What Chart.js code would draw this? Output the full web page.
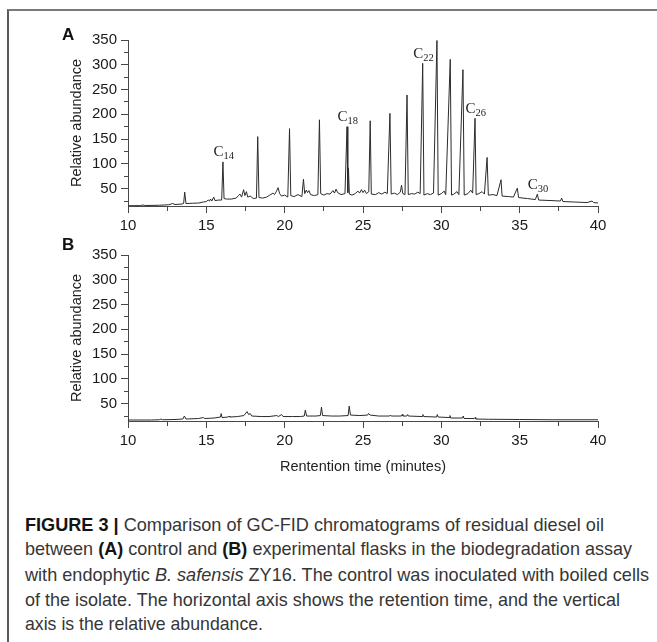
<!DOCTYPE html>
<html>
<head>
<meta charset="utf-8">
<script src="https://cdn.jsdelivr.net/npm/chart.js@4.4.1/dist/chart.umd.min.js"></script>
<style>
  html, body { margin: 0; padding: 0; background: #fff; }
  body { width: 657px; height: 642px; position: relative; overflow: hidden;
         font-family: "Liberation Sans", Arial, sans-serif; }
  #frame { position: absolute; left: 7px; top: 9px; width: 700px; height: 700px;
           border-left: 2px solid #5a5a5a; border-top: 2px solid #7a7a7a; }
  canvas { position: absolute; left: 0; }
  #chartA { top: 0; }
  #chartB { top: 240px; }
  .panel { position: absolute; left: 62px; font-size: 17px; line-height: 17px;
           font-weight: bold; color: #111; }
  .cap { position: absolute; left: 25px; font-size: 19px; line-height: 24.8px; white-space: nowrap;
         color: #363636; transform-origin: 0 50%;
         font-family: "Liberation Sans Narrow", "Liberation Sans", Arial, sans-serif; }
  .cap b { color: #141414; }
</style>
</head>
<body>
<div id="frame"></div>
<canvas id="chartA" width="657" height="240"></canvas>
<canvas id="chartB" width="657" height="250"></canvas>
<div class="panel" style="top:26px">A</div>
<div class="panel" style="top:236px">B</div>

<div class="cap" style="top:512.6px"><b>FIGURE 3 |</b> Comparison of GC-FID chromatograms of residual diesel oil</div>
<div class="cap" style="top:537px">between <b>(A)</b> control and <b>(B)</b> experimental flasks in the biodegradation assay</div>
<div class="cap" style="top:562.6px">with endophytic <i>B. safensis</i> ZY16. The control was inoculated with boiled cells</div>
<div class="cap" style="top:587.6px">of the isolate. The horizontal axis shows the retention time, and the vertical</div>
<div class="cap" style="top:612px">axis is the relative abundance.</div>

<script>
/** Data */
// (A) control: [retention time (min), relative abundance]
const controlTrace = [
    [10.0, 15.5], [10.8, 15.8], [10.95, 17], [11.1, 16], [12.0, 16.5], [12.6, 17.5], [12.85, 20], [13.0, 18],
    [13.45, 19], [13.55, 20], [13.62, 43], [13.7, 20], [14.1, 20.5], [14.5, 21], [14.8, 23], [15.0, 24],
    [15.12, 27], [15.2, 25], [15.27, 29], [15.35, 25], [15.47, 33], [15.55, 26], [15.8, 27], [15.98, 27],
    [16.06, 104], [16.13, 30], [16.3, 29], [16.6, 29], [16.9, 31], [17.05, 36], [17.15, 39], [17.25, 33],
    [17.38, 48], [17.46, 36], [17.56, 44], [17.64, 33], [17.8, 35], [18.0, 30], [18.2, 31], [18.28, 155],
    [18.36, 32], [18.6, 31], [18.85, 33], [19.05, 37], [19.25, 41], [19.35, 38], [19.48, 45], [19.58, 52],
    [19.68, 40], [19.8, 35], [20.0, 37], [20.2, 33], [20.31, 171], [20.39, 36], [20.6, 34], [20.85, 38],
    [21.1, 34], [21.2, 69], [21.28, 40], [21.38, 47], [21.46, 42], [21.55, 46], [21.65, 38], [21.9, 36],
    [22.12, 38], [22.22, 189], [22.3, 40], [22.5, 37], [22.7, 40], [22.9, 39], [23.08, 46], [23.18, 41],
    [23.28, 49], [23.38, 42], [23.6, 38], [23.85, 40], [23.98, 175], [24.03, 42], [24.07, 92], [24.13, 39],
    [24.3, 37], [24.5, 40], [24.68, 45], [24.78, 41], [24.9, 48], [25.0, 42], [25.1, 47], [25.22, 40],
    [25.37, 44], [25.46, 187], [25.53, 39], [25.8, 38], [26.0, 42], [26.2, 39], [26.4, 43], [26.55, 40],
    [26.72, 202], [26.8, 39], [27.0, 41], [27.2, 38], [27.38, 43], [27.46, 57], [27.54, 40], [27.68, 38],
    [27.81, 239], [27.89, 38], [28.1, 40], [28.3, 39], [28.5, 43], [28.65, 40], [28.81, 303], [28.89, 37],
    [29.1, 40], [29.3, 38], [29.5, 41], [29.72, 349], [29.8, 37], [30.0, 40], [30.18, 45], [30.28, 38],
    [30.57, 311], [30.65, 37], [30.8, 39], [31.0, 44], [31.12, 38], [31.38, 290], [31.46, 37], [31.7, 40],
    [31.88, 47], [32.0, 41], [32.15, 192], [32.22, 38], [32.4, 40], [32.6, 44], [32.75, 39], [32.92, 113],
    [33.0, 37], [33.3, 38], [33.55, 36], [33.81, 68], [33.88, 35], [34.3, 34], [34.6, 33], [34.85, 51],
    [34.93, 32], [35.5, 30], [36.0, 28], [36.13, 39], [36.21, 27], [37.0, 26], [37.6, 25], [37.68, 31],
    [37.76, 24], [38.5, 23], [39.3, 22], [39.62, 25], [39.72, 22], [40.0, 21]
];

// (B) experimental: [retention time (min), relative abundance]
const experimentTrace = [
    [10.0, 17], [11.5, 17], [12.0, 17.5], [12.1, 19], [12.2, 17.5], [13.0, 18], [13.5, 19], [13.6, 25],
    [13.7, 19], [14.5, 20], [14.8, 22], [14.9, 20], [15.5, 21], [15.9, 23], [15.95, 30], [16.0, 22],
    [16.4, 23], [16.45, 25], [16.5, 23], [17.0, 24], [17.4, 26], [17.6, 34], [17.7, 28], [17.8, 30],
    [17.9, 25], [18.5, 24], [19.0, 24], [19.5, 26], [19.6, 24], [19.8, 28], [19.9, 24], [20.5, 24],
    [21.0, 24], [21.25, 25], [21.32, 37], [21.4, 25], [22.0, 25], [22.28, 26], [22.35, 43], [22.42, 26],
    [23.0, 25], [23.5, 25], [24.05, 26], [24.12, 45], [24.2, 27], [24.8, 26], [25.3, 27], [25.35, 30],
    [25.45, 27], [26.0, 25], [26.7, 25], [26.75, 27], [26.8, 25], [27.45, 25], [27.5, 28], [27.55, 25],
    [27.8, 25], [27.85, 28], [27.9, 25], [28.78, 24], [28.82, 28], [28.88, 24], [29.7, 23], [29.74, 28],
    [29.8, 23], [30.5, 22], [30.55, 26], [30.6, 21], [31.35, 21], [31.4, 25], [31.45, 20], [32.1, 20],
    [32.15, 22], [32.2, 19], [33.0, 18.5], [35.0, 18], [37.0, 17.5], [40.0, 17.5]
];

// n-alkane peak labels in panel A
const alkaneTimes = [16.06, 23.98, 28.81, 32.15, 36.13];
const alkaneApex = [104, 175, 303, 192, 39];
const alkaneCarbons = ['14', '18', '22', '26', '30'];

const timeMin = 10, timeMax = 40, timeStep = 2.5;
const abundMin = 15, abundMax = 350, abundStep = 25;

/** Chart setup */
Chart.defaults.font.family = '"Liberation Sans", Arial, sans-serif';
Chart.defaults.color = '#1a1a1a';
const AXIS = '#474747';

function labelPlugin(times, apex, subs) {
    return {
        id: 'alkaneLabels',
        afterDatasetsDraw: function (chart) {
            const ctx = chart.ctx;
            const xs = chart.scales.x, ys = chart.scales.y;
            ctx.save();
            ctx.fillStyle = '#222';
            ctx.textBaseline = 'alphabetic';
            ctx.textAlign = 'left';
            for (let i = 0; i < times.length; i++) {
                const px = xs.getPixelForValue(times[i]) + 0.7;
                const py = ys.getPixelForValue(apex[i]) - 5.5;
                ctx.font = '15px "Liberation Serif", "Times New Roman", serif';
                const wC = ctx.measureText('C').width;
                ctx.font = '10.5px "Liberation Serif", "Times New Roman", serif';
                const wS = ctx.measureText(subs[i]).width;
                const x0 = px - (wC + wS) / 2;
                ctx.font = '15px "Liberation Serif", "Times New Roman", serif';
                ctx.fillText('C', x0, py);
                ctx.font = '10.5px "Liberation Serif", "Times New Roman", serif';
                ctx.fillText(subs[i], x0 + wC, py + 3);
            }
            ctx.restore();
        }
    };
}

function buildChart(id, trace, areaTop, xHeight, xTitle, extraPlugins) {
    return new Chart(document.getElementById(id), {
        type: 'line',
        data: {
            datasets: [{
                data: trace.map(p => ({ x: p[0], y: p[1] })),
                borderColor: '#2b2b2b',
                borderWidth: 1,
                pointRadius: 0,
                tension: 0,
                fill: false
            }]
        },
        options: {
            responsive: false,
            animation: false,
            devicePixelRatio: 1,
            layout: { padding: { left: 0, right: 59, top: areaTop, bottom: 0 } },
            plugins: { legend: { display: false }, tooltip: { enabled: false } },
            scales: {
                x: {
                    type: 'linear',
                    min: timeMin, max: timeMax,
                    afterFit: s => { s.height = xHeight; },
                    border: { color: AXIS, width: 1 },
                    grid: {
                        drawOnChartArea: false, tickLength: 7, tickColor: AXIS,
                        tickBorderDash: c => (c.tick && c.tick.value % 5 !== 0) ? [4, 20] : []
                    },
                    ticks: {
                        stepSize: timeStep, autoSkip: false, maxRotation: 0, padding: 4,
                        font: { size: 15 }, color: '#1a1a1a',
                        callback: v => v % 5 === 0 ? v : ''
                    },
                    title: {
                        display: !!xTitle, text: xTitle || '', color: '#222',
                        font: { size: 14.5 }, padding: { top: 0, bottom: 14 }
                    }
                },
                y: {
                    min: abundMin, max: abundMax,
                    afterFit: s => { s.width = 128; },
                    border: { color: AXIS, width: 1 },
                    grid: {
                        drawOnChartArea: false, tickLength: 7, tickColor: AXIS,
                        tickBorderDash: c => (c.tick && c.tick.value % 50 !== 0) ? [0, 3, 4, 20] : []
                    },
                    ticks: {
                        stepSize: abundStep, includeBounds: false, autoSkip: false, padding: 4,
                        font: { size: 15 }, color: '#1a1a1a',
                        callback: v => v % 50 === 0 ? v : ''
                    },
                    title: {
                        display: true, text: 'Relative abundance', color: '#222',
                        font: { size: 14.5 }, padding: { top: 68, bottom: 0 }
                    }
                }
            }
        },
        plugins: extraPlugins
    });
}

buildChart('chartA', controlTrace, 40, 34, null, [labelPlugin(alkaneTimes, alkaneApex, alkaneCarbons)]);
buildChart('chartB', experimentTrace, 15, 69, 'Rentention time (minutes)', []);

/** Caption line fitting */
const capRight = [604, 632, 649, 620, 263];
document.querySelectorAll('.cap').forEach((el, i) => {
    const w = el.getBoundingClientRect().width;
    el.style.transform = 'scaleX(' + ((capRight[i] - 25) / w) + ')';
});
</script>
</body>
</html>
